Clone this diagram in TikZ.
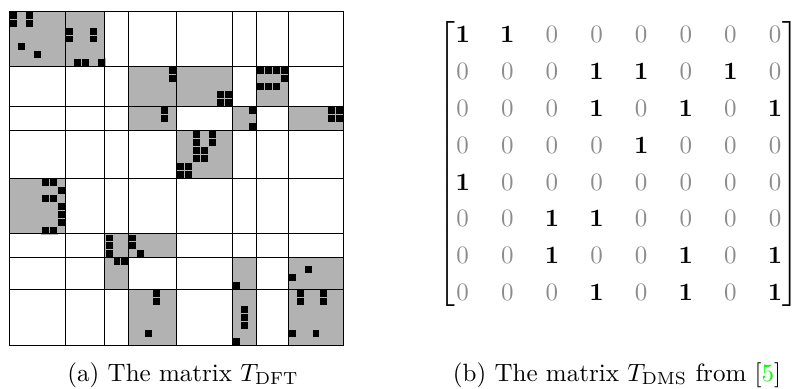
\documentclass[tikz,border=0pt]{standalone}
\newcommand{\bone}{\mathbf{1}}
\newcommand{\gz}{{\color{black!45}0}}
\begin{document}
\begin{tikzpicture}[x=0.4pt,y=-0.4pt,
    block/.style={fill=black!30},
    entry/.style={fill=black,draw=black!30,line width=0.3pt},
    gridline/.style={draw=black,line width=0.4pt}
]
\useasboundingbox (0,0) rectangle (794,388);

% left: pattern of T_DFT, 42x42 cells cut into 8x8 blocks
\begin{scope}[shift={(9.4,11)},x=3.184pt,y=-3.184pt]
  \foreach \ra/\rb/\ca/\cb in {0/7/0/7, 0/7/7/12, 7/12/15/21, 7/12/21/28, 7/12/31/35,
      12/15/15/21, 12/15/28/31, 12/15/35/42, 15/21/21/28, 21/28/0/7,
      28/31/12/15, 28/31/15/21, 31/35/12/15, 31/35/28/31, 31/35/35/42,
      35/42/15/21, 35/42/28/31, 35/42/35/42}
    \fill[block] (\ca,\ra) rectangle (\cb,\rb);
  \foreach \r/\c in {0/0, 1/0, 0/2, 1/2, 4/1, 5/3,
      2/7, 3/7, 2/10, 3/10, 6/8, 6/9, 6/11,
      7/20, 8/20, 10/26, 10/27, 11/26, 11/27,
      7/31, 7/32, 7/33, 7/34, 8/34, 9/31, 9/32, 9/33,
      12/19, 13/19, 12/30, 14/30, 12/40, 12/41, 13/40, 13/41,
      15/23, 16/23, 17/23, 18/23, 17/24, 18/24, 15/25, 16/25,
      19/21, 19/22, 20/21, 20/22,
      21/4, 21/5, 22/6, 23/4, 23/5, 24/6, 25/6, 26/6, 27/4, 27/5,
      28/12, 29/12, 30/12, 28/15, 29/15, 30/16, 31/13, 31/14,
      34/28, 32/37, 33/35,
      35/18, 36/18, 40/17, 37/29, 38/29, 39/29, 41/28,
      35/36, 36/36, 35/39, 36/39, 40/35, 40/38}
    \draw[entry] (\c,\r) rectangle ++(1,1);
  \foreach \b in {0,7,12,15,21,28,31,35,42} {
    \draw[gridline] (\b,0) -- (\b,42);
    \draw[gridline] (0,\b) -- (42,\b);
  }
\end{scope}

% right: T_DMS
\node[inner sep=0pt] (Tdms) at (618.9,164.2) {%
  \setlength{\arraycolsep}{6.05pt}\renewcommand{\arraystretch}{1.23}%
  $\left[\begin{array}{@{}cccccccc@{}}
  \bone & \bone & \gz & \gz & \gz & \gz & \gz & \gz \\
  \gz & \gz & \gz & \bone & \bone & \gz & \bone & \gz \\
  \gz & \gz & \gz & \bone & \gz & \bone & \gz & \bone \\
  \gz & \gz & \gz & \gz & \bone & \gz & \gz & \gz \\
  \bone & \gz & \gz & \gz & \gz & \gz & \gz & \gz \\
  \gz & \gz & \bone & \bone & \gz & \gz & \gz & \gz \\
  \gz & \gz & \bone & \gz & \gz & \bone & \gz & \bone \\
  \gz & \gz & \gz & \bone & \gz & \bone & \gz & \bone
  \end{array}\right]$};

\node[anchor=base] (capDFT) at (183,381) {(a) The matrix $T_{\mathrm{DFT}}$};
\node[anchor=base] (capDMS) at (617,381) {(b) The matrix $T_{\mathrm{DMS}}$ from [{\color{green}5}]};

\end{tikzpicture}
\end{document}
